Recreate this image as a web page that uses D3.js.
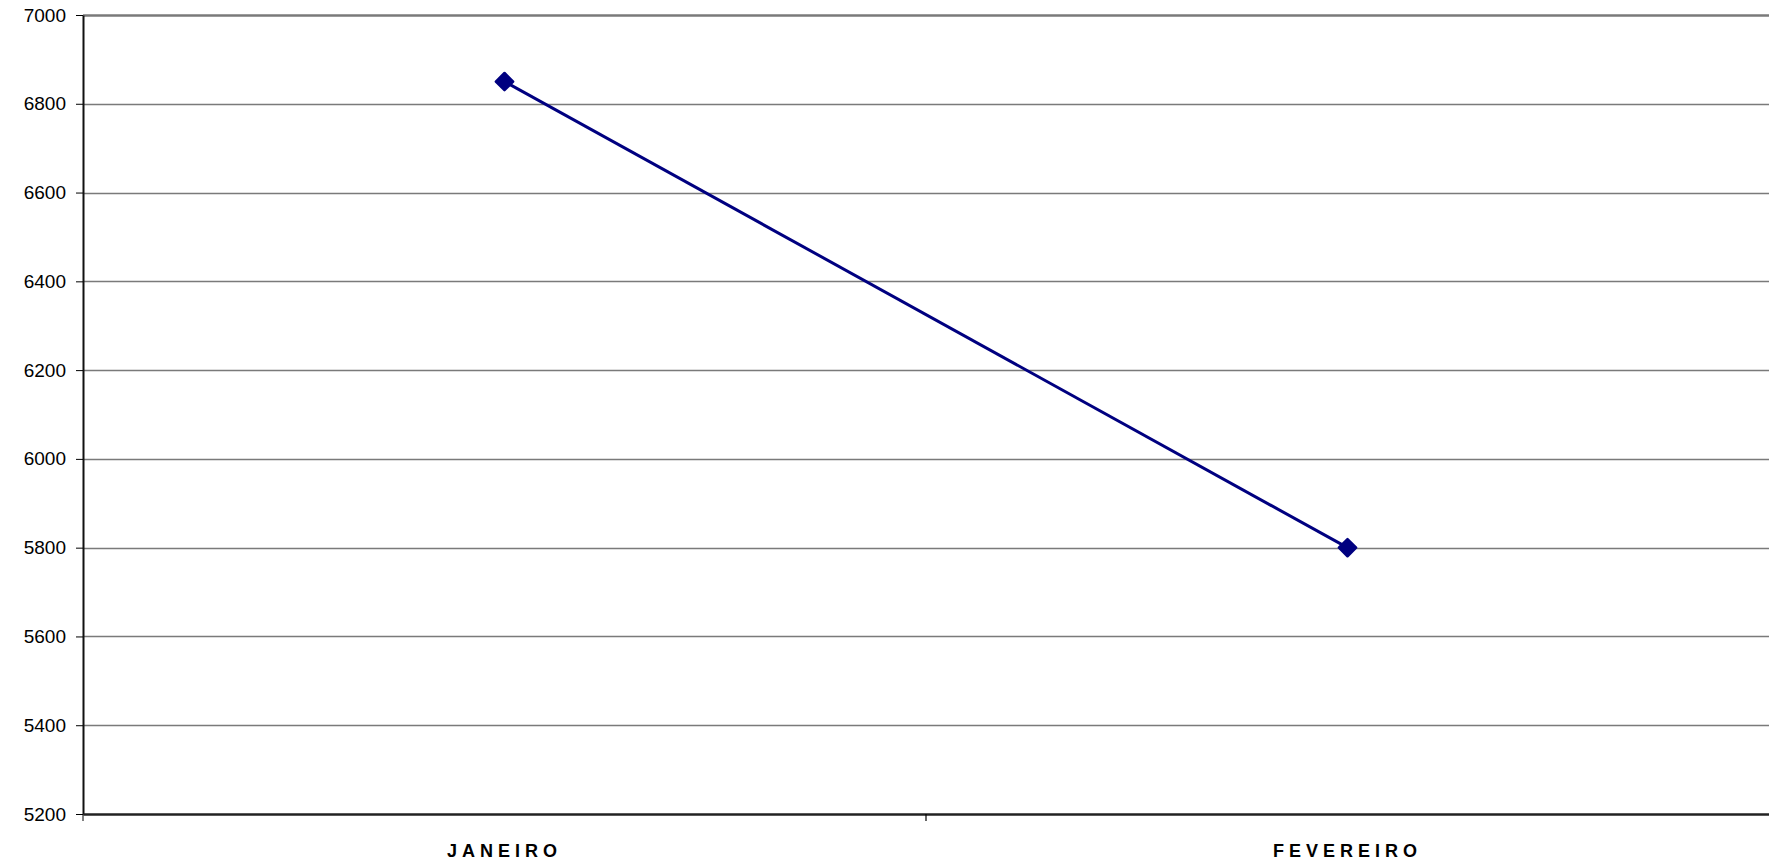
<!DOCTYPE html>
<html>
<head>
<meta charset="utf-8">
<script src="https://cdn.jsdelivr.net/npm/d3@7"></script>
<style>
  html, body { margin: 0; padding: 0; background: #fff; }
  svg { display: block; }
</style>
</head>
<body>
<svg id="chart" width="1769" height="865"></svg>
<script>
const categories = ["JANEIRO", "FEVEREIRO"];
const values = [6850, 5800];
const yTicks = [5200, 5400, 5600, 5800, 6000, 6200, 6400, 6600, 6800, 7000];

const W = 1769, H = 865;
const margin = { left: 83, top: 15, right: 0, bottom: 51 };
const svg = d3.select("#chart");

const x = d3.scaleBand().domain(categories).range([margin.left, W - margin.right]).padding(0);
const y = d3.scaleLinear().domain([5200, 7000]).range([H - margin.bottom, margin.top]);

// gridlines
svg.append("g")
  .selectAll("line")
  .data(yTicks.filter(d => d !== 5200))
  .join("line")
  .attr("x1", margin.left).attr("x2", W)
  .attr("y1", d => Math.round(y(d)) + 0.5).attr("y2", d => Math.round(y(d)) + 0.5)
  .attr("stroke", "#7a7a7a").attr("stroke-width", d => d === 7000 ? 2.5 : 1.6);

// y axis
const yAxis = d3.axisLeft(y).tickValues(yTicks).tickSize(7).tickSizeOuter(0).tickPadding(10).tickFormat(d3.format("d"));
const gy = svg.append("g").attr("transform", `translate(${margin.left},0)`).call(yAxis);
gy.select(".domain").attr("stroke", "#111").attr("stroke-width", 2);
gy.selectAll(".tick line").attr("stroke", "#000");
gy.selectAll("text").attr("font-family", "Liberation Sans, Arial, sans-serif").attr("font-size", 19).attr("fill", "#000");

// x axis
const xAxis = d3.axisBottom(x).tickSize(0).tickPadding(0);
const gx = svg.append("g").attr("transform", `translate(0,${y(5200)})`).call(xAxis);
gx.select(".domain").attr("stroke", "#222").attr("stroke-width", 2.5);
gx.selectAll(".tick text")
  .attr("y", 43)
  .attr("dy", 0)
  .attr("font-family", "Liberation Sans, Arial, sans-serif")
  .attr("font-size", 18)
  .attr("font-weight", "bold")
  .attr("letter-spacing", "5px")
  .attr("fill", "#000");
// category boundary ticks
svg.append("g").selectAll("line")
  .data(categories.slice(1))
  .join("line")
  .attr("x1", d => x(d)).attr("x2", d => x(d))
  .attr("y1", y(5200)).attr("y2", y(5200) + 7)
  .attr("stroke", "#000").attr("stroke-width", 1.2);
svg.append("line")
  .attr("x1", margin.left).attr("x2", margin.left)
  .attr("y1", y(5200)).attr("y2", y(5200) + 7)
  .attr("stroke", "#000");

// line
const data = categories.map((c, i) => ({ c, v: values[i] }));
const line = d3.line().x(d => x(d.c) + x.bandwidth() / 2).y(d => y(d.v));
svg.append("path").datum(data)
  .attr("d", line).attr("fill", "none")
  .attr("stroke", "#000080").attr("stroke-width", 3);

svg.append("g").selectAll("path")
  .data(data)
  .join("path")
  .attr("d", d3.symbol().type(d3.symbolDiamond2).size(190))
  .attr("transform", d => `translate(${x(d.c) + x.bandwidth() / 2},${y(d.v)})`)
  .attr("fill", "#000080")
  .attr("stroke", "#000080")
  .attr("stroke-width", 2.5)
  .attr("stroke-linejoin", "round");
</script>
</body>
</html>
